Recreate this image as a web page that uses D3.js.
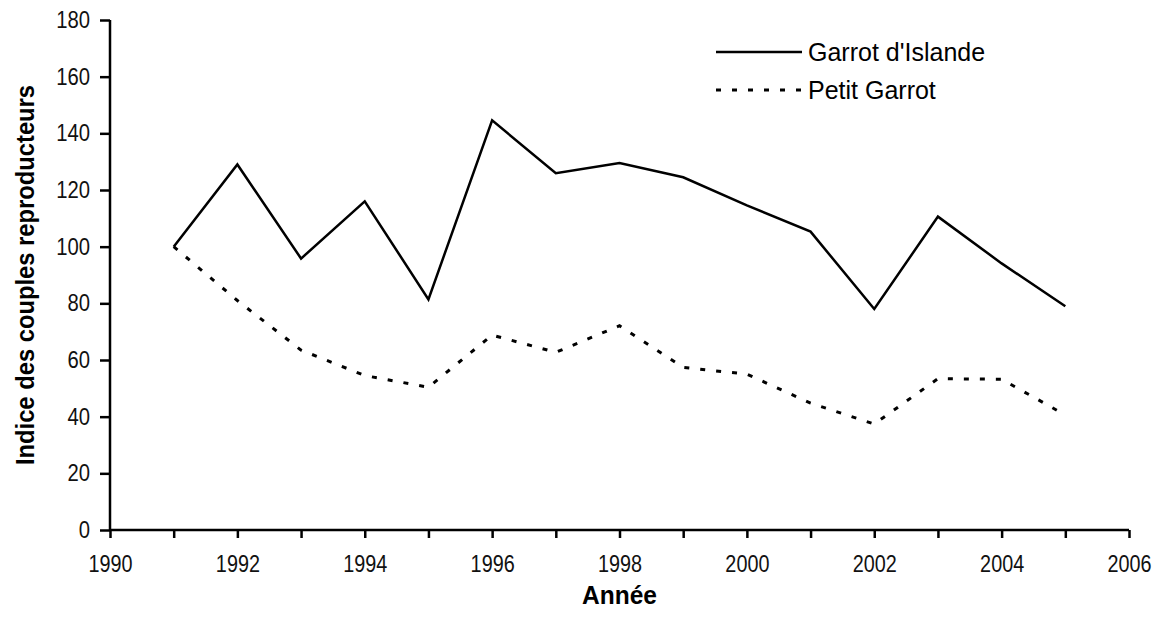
<!DOCTYPE html>
<html>
<head>
<meta charset="utf-8">
<script src="https://cdn.jsdelivr.net/npm/d3@7"></script>
<style>
  body { margin: 0; background: #fff; }
  .axis text { font-family: "Liberation Sans", Arial, sans-serif; font-size: 23px; fill: #111; }
  .axis path, .axis line { stroke: #000; stroke-width: 2.5px; }
  .title { font-family: "Liberation Sans", Arial, sans-serif; font-weight: bold; font-size: 25px; fill: #000; }
  .legend text { font-family: "Liberation Sans", Arial, sans-serif; font-size: 25px; fill: #000; }
</style>
</head>
<body>
<div id="chart"></div>
<script>
/* DATA */
const years = [1991, 1992, 1993, 1994, 1995, 1996, 1997, 1998, 1999, 2000, 2001, 2002, 2003, 2004, 2005];
const garrotIslande = [100, 129, 95.8, 116, 81.4, 144.6, 125.9, 129.5, 124.5, 114.6, 105.3, 78, 110.6, 94.1, 79];
const petitGarrot = [100, 81, 63.5, 54.5, 50.4, 68.8, 62.7, 72.1, 57.4, 55, 44.8, 37.4, 53.4, 53.2, 40.6];
const xTicks = d3.range(1990, 2007);
const yTicks = [0, 20, 40, 60, 80, 100, 120, 140, 160, 180];
const seriesNames = ["Garrot d'Islande", "Petit Garrot"];

const W = 1161, H = 617;
const margin = { left: 110, right: 32, top: 20, bottom: 87 };

const svg = d3.select('#chart').append('svg')
  .attr('width', W)
  .attr('height', H);

// the original uses a narrow face: squeeze the glyphs a bit
function narrow(sel, k) {
  sel.each(function () {
    const w = this.getComputedTextLength();
    if (w > 0) {
      d3.select(this).attr('textLength', w * k).attr('lengthAdjust', 'spacingAndGlyphs');
    }
  });
}

// scales
const x = d3.scaleLinear().domain([1990, 2006]).range([margin.left, W - margin.right]);
const y = d3.scaleLinear().domain([0, 180]).range([H - margin.bottom, margin.top]);

// axes
const xAxis = d3.axisBottom(x)
  .tickValues(xTicks)
  .tickSize(8)
  .tickPadding(18)
  .tickFormat(d => (d % 2 === 0 ? d : ''));
svg.append('g')
  .attr('class', 'axis')
  .attr('transform', `translate(0, ${y(0)})`)
  .call(xAxis)
  .call(g => g.select('.domain').attr('d', `M${x(1990)},0H${x(2006)}`))
  .call(g => narrow(g.selectAll('text'), 0.86));

const yAxis = d3.axisLeft(y)
  .tickValues(yTicks)
  .tickSize(10)
  .tickPadding(10);
svg.append('g')
  .attr('class', 'axis')
  .attr('transform', `translate(${x(1990)}, 0)`)
  .call(yAxis)
  .call(g => g.select('.domain').attr('d', `M0,${y(180)}V${y(0)}`))
  .call(g => narrow(g.selectAll('text'), 0.88));

// axis titles
svg.append('text')
  .attr('class', 'title')
  .attr('x', (x(1990) + x(2006)) / 2)
  .attr('y', 604)
  .attr('text-anchor', 'middle')
  .text('Année')
  .call(t => narrow(t, 0.98));

svg.append('text')
  .attr('class', 'title')
  .attr('transform', `translate(34, ${(y(0) + y(180)) / 2}) rotate(-90)`)
  .attr('text-anchor', 'middle')
  .text('Indice des couples reproducteurs')
  .call(t => narrow(t, 0.95));

// lines
const line = d3.line()
  .x((d, i) => x(years[i]))
  .y(d => y(d));

svg.append('path')
  .datum(garrotIslande)
  .attr('fill', 'none')
  .attr('stroke', '#000')
  .attr('stroke-width', 2.5)
  .attr('stroke-linejoin', 'miter')
  .attr('d', line);

svg.append('path')
  .datum(petitGarrot)
  .attr('fill', 'none')
  .attr('stroke', '#000')
  .attr('stroke-width', 3)
  .attr('stroke-dasharray', '5,11')
  .attr('d', line);

// legend
const legend = svg.append('g').attr('class', 'legend');
const dashes = [null, '5,11'];
seriesNames.forEach((name, i) => {
  const ly = 52 + i * 38;
  legend.append('line')
    .attr('x1', 716).attr('x2', 802)
    .attr('y1', ly).attr('y2', ly)
    .attr('stroke', '#000')
    .attr('stroke-width', i === 0 ? 2.5 : 3)
    .attr('stroke-dasharray', dashes[i]);
  legend.append('text')
    .attr('x', 808)
    .attr('y', ly + 8.5)
    .text(name);
});
</script>
</body>
</html>
